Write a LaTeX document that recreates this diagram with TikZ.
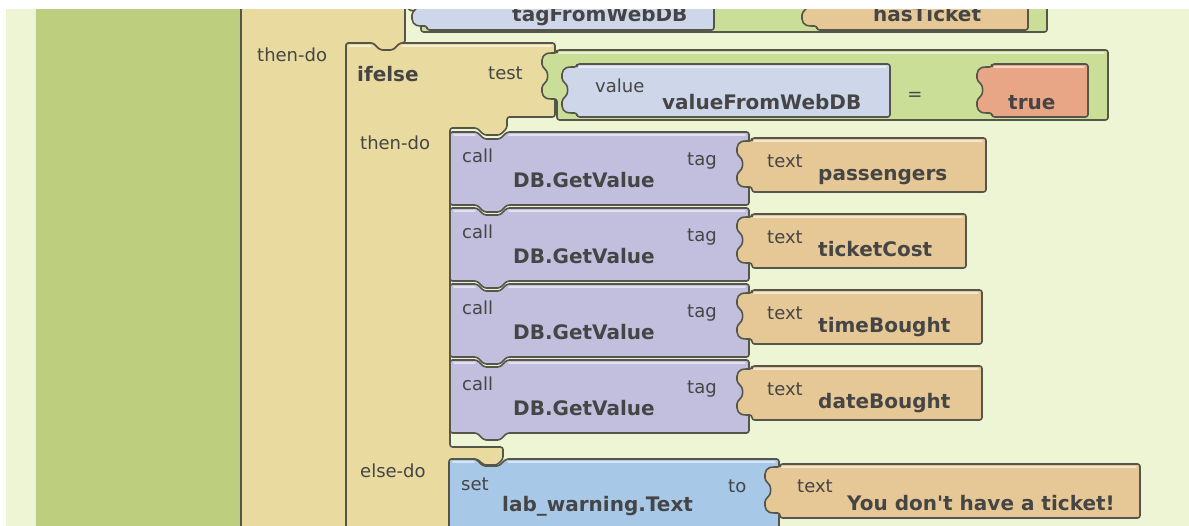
\documentclass[tikz,border=0pt]{standalone}
\usepackage{fontspec}
\setmainfont{DejaVu Sans}

\definecolor{bg}{HTML}{EEF5D4}
\definecolor{colg}{HTML}{BDCF7E}
\definecolor{tanif}{HTML}{E9DBA0}
\definecolor{purp}{HTML}{C1BEDE}
\definecolor{txtb}{HTML}{E6C896}
\definecolor{valb}{HTML}{CED6EA}
\definecolor{cmpg}{HTML}{CBDE98}
\definecolor{trueo}{HTML}{E9A686}
\definecolor{setb}{HTML}{A8C8E8}
\definecolor{ink}{HTML}{454545}
\definecolor{edge}{HTML}{55554A}

\tikzset{
  blk/.style={draw=edge, line width=1.6pt, rounded corners=2.5pt, line join=round},
  shine/.style={draw=white, opacity=0.55, line width=1.6pt, line cap=round},
  lab/.style={anchor=base west, inner sep=0pt, text=ink, font=\fontsize{18}{20}\selectfont},
  big/.style={anchor=base west, inner sep=0pt, text=ink, font=\fontsize{20}{22}\selectfont\bfseries},
}

% statement block: x, y, width, height, colour
\newcommand{\stmtblk}[5]{%
  \filldraw[blk, fill=#5] (#1,#2) -- ++(27,0) -- ++(7,7) -- ++(16,0) -- ++(7,-7)
    -- ({#1+#3},#2) -- ({#1+#3},{#2+#4}) -- ({#1+57},{#2+#4}) -- ++(-7,7)
    -- ++(-16,0) -- ++(-7,-7) -- (#1,{#2+#4}) -- cycle;
  \draw[shine] ({#1+4},{#2+3}) -- ({#1+25},{#2+3});
  \draw[shine] ({#1+59},{#2+3}) -- ({#1+#3-4},{#2+3});}

% value block with plug on the left: left, top, right, height, colour
\newcommand{\valblk}[5]{%
  \filldraw[blk, fill=#5] (#1,#2) -- (#3,#2) -- (#3,{#2+#4}) -- (#1,{#2+#4})
    -- (#1,{#2+49}) -- ({#1-8},{#2+49})
    .. controls ({#1-16},{#2+47}) and ({#1-16},{#2+37}) .. ({#1-12},{#2+33})
    .. controls ({#1-9},{#2+29}) and ({#1-9},{#2+23}) .. ({#1-12},{#2+19})
    .. controls ({#1-16},{#2+15}) and ({#1-16},{#2+5}) .. ({#1-8},{#2+3})
    -- (#1,{#2+3}) -- cycle;
  \draw[shine] ({#1+2},{#2+3}) -- ({#3-4},{#2+3});}

\begin{document}
\begin{tikzpicture}[x=1pt, y=-1pt]
\useasboundingbox (0,0) rectangle (1189,526);
\clip (0,0) rectangle (1189,526);
\fill[bg] (0,0) rectangle (1189,526);

% event block column
\fill[colg] (34,0) rectangle (241,540);
\draw[white!70!colg, line width=1.5pt] (35,0) -- (35,540);

% outer if block
\filldraw[blk, fill=tanif] (241,-10) -- (405,-10) -- (405,43) -- (400,43) -- (393,50)
  -- (380,50) -- (373,43) -- (346,43) -- (346,540) -- (241,540) -- cycle;

% top row, cut by the edge
\valblk{421}{-38}{1047}{70}{cmpg}
\valblk{427}{-23}{714}{53}{valb}
\valblk{817}{-23}{1028}{53}{txtb}

% ifelse block
\filldraw[blk, fill=tanif] (346,43) -- (373,43) -- (380,50) -- (393,50) -- (400,43)
  -- (555,43) -- (555,117) -- (507,117) -- (507,128) -- (500,135) -- (484,135)
  -- (477,128) -- (450,128) -- (450,447) -- (503,447) -- (503,459) -- (497,465)
  -- (484,465) -- (477,459) -- (450,459) -- (450,540) -- (346,540) -- cycle;
\draw[shine] (350,46) -- (371,46);
\draw[shine] (402,46) -- (551,46);

% test: value = true
\valblk{557}{50}{1108}{70}{cmpg}
\valblk{577}{64}{890}{53}{valb}
\valblk{992}{64}{1088}{53}{trueo}

% then-do: DB.GetValue calls
\stmtblk{450}{132}{299}{73}{purp}
\stmtblk{450}{208}{299}{73}{purp}
\stmtblk{450}{284}{299}{73}{purp}
\stmtblk{450}{360}{299}{73}{purp}
\valblk{752}{138}{986}{54}{txtb}
\valblk{752}{214}{966}{54}{txtb}
\valblk{752}{290}{982}{54}{txtb}
\valblk{752}{366}{982}{54}{txtb}

% else-do
\stmtblk{449}{459}{330}{100}{setb}
\valblk{780}{464}{1140}{54}{txtb}

% labels
\node[big] (TW) at (512,22) {tagFromWebDB};
\node[big] (HT) at (873,22) {hasTicket};
\node[lab] (TD0) at (257,62) {then-do};
\node[big] (IF) at (357,82) {ifelse};
\node[lab] (TS) at (488,80) {test};
\node[lab] (VL) at (595,93) {value};
\node[big] (VW) at (662,110) {valueFromWebDB};
\node[lab, anchor=center] (EQ) at (915,96) {=};
\node[big] (TR) at (1008,110) {true};
\node[lab] (TD1) at (360,150) {then-do};

\node[lab] (C1) at (462,163) {call};
\node[big] (G1) at (513,188) {DB.GetValue};
\node[lab] (A1) at (687,166) {tag};
\node[lab] (X1) at (767,168) {text};
\node[big] (S1) at (818,181) {passengers};

\node[lab] (C2) at (462,239) {call};
\node[big] (G2) at (513,264) {DB.GetValue};
\node[lab] (A2) at (687,242) {tag};
\node[lab] (X2) at (767,244) {text};
\node[big] (S2) at (818,257) {ticketCost};

\node[lab] (C3) at (462,315) {call};
\node[big] (G3) at (513,340) {DB.GetValue};
\node[lab] (A3) at (687,318) {tag};
\node[lab] (X3) at (767,320) {text};
\node[big] (S3) at (818,333) {timeBought};

\node[lab] (C4) at (462,391) {call};
\node[big] (G4) at (513,416) {DB.GetValue};
\node[lab] (A4) at (687,394) {tag};
\node[lab] (X4) at (767,396) {text};
\node[big] (S4) at (818,409) {dateBought};

\node[lab] (ED) at (360,477) {else-do};
\node[lab] (ST) at (461,490) {set};
\node[big] (LW) at (502,511) {lab\_warning.Text};
\node[lab] (TO) at (728,493) {to};
\node[lab] (TX) at (797,493) {text};
\node[big] (YD) at (847,510) {You don\textquotesingle t have a ticket!};

% white margins
\fill[white] (0,0) rectangle (1189,9);
\fill[white] (0,0) rectangle (6,526);
\end{tikzpicture}
\end{document}
